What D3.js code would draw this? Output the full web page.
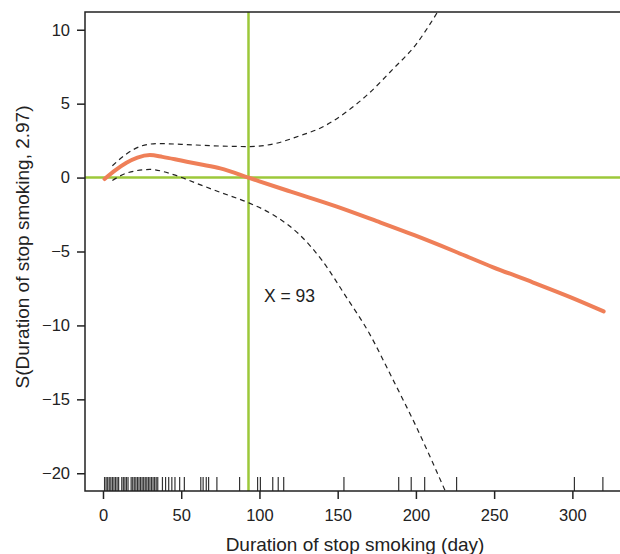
<!DOCTYPE html>
<html>
<head>
<meta charset="utf-8">
<script src="https://cdn.jsdelivr.net/npm/d3@7"></script>
<style>
  body { margin: 0; background: #fff; }
  text { font-family: "Liberation Sans", Arial, sans-serif; fill: #222; }
</style>
</head>
<body>
<div id="vis1"></div>
<script>
// data
const FIT_X   = [1, 8, 15, 22, 30, 38, 50, 62, 75, 93, 100, 120, 149, 175, 199, 225, 249, 275, 299, 320];
const FIT_Y   = [-0.1, 0.5, 1.0, 1.35, 1.52, 1.4, 1.15, 0.9, 0.62, 0.0, -0.25, -0.95, -1.95, -2.95, -3.9, -5.0, -6.05, -7.1, -8.1, -9.05];

const UP_X    = [6, 15, 25, 35, 50, 70, 93, 110, 125, 140, 155, 170, 185, 200, 215];
const UP_Y    = [0.8, 1.6, 2.15, 2.3, 2.25, 2.15, 2.1, 2.3, 2.8, 3.4, 4.4, 5.7, 7.3, 9.0, 11.4];

const LO_X    = [6, 15, 30, 45, 60, 75, 93, 110, 125, 140, 155, 170, 185, 200, 220];
const LO_Y    = [-0.2, 0.3, 0.55, 0.2, -0.4, -1.0, -1.7, -2.6, -3.8, -5.6, -8.0, -10.5, -13.6, -16.8, -21.5];

const RUG = [1, 2, 3, 4, 5, 6, 7, 8, 9, 10, 12, 13, 14, 15, 16, 18, 19, 20, 21, 22, 23, 24, 25, 26,
             27, 28, 29, 30, 31, 32, 33, 34, 35, 38, 40, 42, 44, 46, 49, 52, 62.5, 64, 66, 67.5,
             72.8, 87.3, 98.8, 100.6, 108.5, 112, 115.5, 154, 189, 197, 205.6, 226, 301.3, 319.5];

const X_TICKS = [0, 50, 100, 150, 200, 250, 300];
const Y_TICKS = [-20, -15, -10, -5, 0, 5, 10];
const CUT_X = 93;

const FRAME_WIDTH = 620;
const FRAME_HEIGHT = 554;
const MARGINS = {left: 85, right: -4, top: 12, bottom: 63};

const FRAME1 = d3.select("#vis1")
                  .append("svg")
                    .attr("width", FRAME_WIDTH)
                    .attr("height", FRAME_HEIGHT);

const X_SCALE = d3.scaleLinear()
                  .domain([-11.5, 333])
                  .range([MARGINS.left, FRAME_WIDTH - MARGINS.right]);
const Y_SCALE = d3.scaleLinear()
                  .domain([-21.2, 11.2])
                  .range([FRAME_HEIGHT - MARGINS.bottom, MARGINS.top]);

const X0 = MARGINS.left, X1 = FRAME_WIDTH - MARGINS.right;
const Y0 = MARGINS.top, Y1 = FRAME_HEIGHT - MARGINS.bottom;

FRAME1.append("clipPath").attr("id", "plotclip")
  .append("rect").attr("x", X0).attr("y", Y0).attr("width", X1 - X0).attr("height", Y1 - Y0);

const plot = FRAME1.append("g").attr("clip-path", "url(#plotclip)");

// rug
plot.selectAll(".rug")
  .data(RUG)
  .enter()
  .append("line")
    .attr("x1", d => X_SCALE(d))
    .attr("x2", d => X_SCALE(d))
    .attr("y1", Y1)
    .attr("y2", Y1 - 14)
    .attr("stroke", "#333")
    .attr("stroke-width", 1.2);

// reference lines
plot.append("line")
  .attr("x1", X0).attr("x2", X1)
  .attr("y1", Y_SCALE(0)).attr("y2", Y_SCALE(0))
  .attr("stroke", "#9cc83a").attr("stroke-width", 2.5);
plot.append("line")
  .attr("x1", X_SCALE(CUT_X)).attr("x2", X_SCALE(CUT_X))
  .attr("y1", Y0).attr("y2", Y1)
  .attr("stroke", "#9cc83a").attr("stroke-width", 2.5);

const line = d3.line()
  .x(d => X_SCALE(d[0]))
  .y(d => Y_SCALE(d[1]))
  .curve(d3.curveMonotoneX);

// confidence bands
[[UP_X, UP_Y], [LO_X, LO_Y]].forEach(([xs, ys]) => {
  plot.append("path")
    .datum(xs.map((x, i) => [x, ys[i]]))
    .attr("d", line)
    .attr("fill", "none")
    .attr("stroke", "#222")
    .attr("stroke-width", 1.2)
    .attr("stroke-dasharray", "5,4");
});

// fitted smooth
plot.append("path")
  .datum(FIT_X.map((x, i) => [x, FIT_Y[i]]))
  .attr("d", line)
  .attr("fill", "none")
  .attr("stroke", "#ef7f58")
  .attr("stroke-width", 4)
  .attr("stroke-linecap", "round");

// frame (right side runs off the picture)
FRAME1.append("path")
  .attr("d", `M${X1},${Y0}H${X0}V${Y1}H${X1}`)
  .attr("fill", "none")
  .attr("stroke", "#222")
  .attr("stroke-width", 1.5);

// axes
const xAxis = FRAME1.append("g")
  .attr("transform", "translate(0," + Y1 + ")")
  .call(d3.axisBottom(X_SCALE).tickValues(X_TICKS).tickSize(8).tickPadding(10))
  .attr("font-size", "16.5px");
xAxis.select(".domain").remove();

const yAxis = FRAME1.append("g")
  .attr("transform", "translate(" + X0 + ",0)")
  .call(d3.axisLeft(Y_SCALE).tickValues(Y_TICKS).tickSize(8).tickPadding(7))
  .attr("font-size", "16.5px");
yAxis.select(".domain").remove();

FRAME1.selectAll(".tick line").attr("stroke", "#222").attr("stroke-width", 1.5);
FRAME1.selectAll(".tick text").attr("fill", "#222").attr("font-family", '"Liberation Sans", Arial, sans-serif');

// labels
FRAME1.append("text")
  .attr("x", 355).attr("y", 551)
  .attr("text-anchor", "middle")
  .attr("font-size", "19px")
  .text("Duration of stop smoking (day)");

FRAME1.append("text")
  .attr("transform", "translate(29,247) rotate(-90)")
  .attr("text-anchor", "middle")
  .attr("font-size", "19px")
  .text("S(Duration of stop smoking, 2.97)");

FRAME1.append("text")
  .attr("x", 264).attr("y", 302)
  .attr("font-size", "17.5px")
  .text("X = " + CUT_X);
</script>
</body>
</html>
